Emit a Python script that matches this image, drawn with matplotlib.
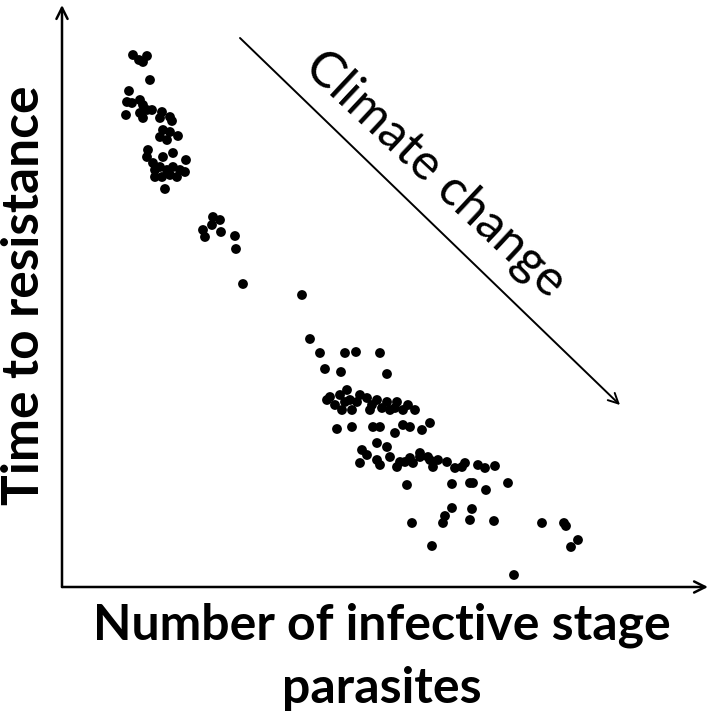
import matplotlib
matplotlib.use("Agg")
import matplotlib.pyplot as plt

# number of infective stage parasites (arbitrary units)
parasites = [71, 77, 85, 81, 88, 67, 65, 70, 78, 81, 85, 90, 64, 78, 81, 100, 98, 108, 110,
             101, 108, 116, 98, 105, 86, 85, 91, 101, 111, 124, 93, 98, 105, 111, 118, 123,
             93, 100, 108, 115, 103,
             151, 158, 150, 141, 143, 159, 173, 174, 181, 240,
             248, 258, 283, 294, 318, 263, 279, 325,
             265, 268, 278, 285, 288, 280, 295, 305, 310, 315, 320, 325, 328, 335, 341, 353, 290,
             273, 298, 283, 333, 346, 308,
             275, 290, 311, 318, 333, 341, 348, 360, 368,
             315, 325, 300, 298, 305, 315, 328, 338, 348, 358, 368, 318, 335,
             343, 351, 358, 366, 371, 376, 385, 393, 400, 403, 416, 423, 433,
             345, 390, 408, 411, 424, 446,
             390, 410, 383, 381, 408, 432, 350, 480, 502, 504, 516, 509, 370, 452]

# time to resistance (arbitrary units)
time_res = [532, 527, 531, 525, 507, 496, 485, 484, 487, 482, 477, 477, 472, 474, 469, 475, 469, 470, 466,
            457, 455, 451, 450, 447, 437, 430, 424, 430, 434, 427, 417, 420, 417, 420, 417, 415,
            410, 410, 412, 410, 398,
            370, 367, 362, 357, 350, 355, 351, 338, 303, 292,
            248, 234, 234, 235, 234, 218, 215, 213,
            187, 190, 192, 197, 187, 177, 185, 189, 182, 187, 179, 185, 177, 185, 177, 177, 177,
            182, 192, 185, 179, 182, 177,
            158, 160, 160, 160, 154, 162, 160, 157, 164,
            144, 140, 137, 124, 132, 127, 130, 125, 129, 130, 127, 122, 120,
            125, 124, 134, 130, 120, 127, 125, 119, 120, 124, 122, 119, 121,
            102, 103, 104, 104, 97, 104,
            79, 78, 71, 64, 67, 66, 64, 64, 64, 61, 47, 40, 41, 12]

plt.rcParams['font.family'] = ['Lato', 'DejaVu Sans']

fig = plt.figure(figsize=(7.14, 7.23), dpi=100)
W, H = 714, 723
ax = fig.add_axes([62 / W, 136 / H, 646 / W, 582 / H])
ax.set_xlim(0, 646)
ax.set_ylim(0, 582)
ax.axis('off')

ax.scatter(parasites, time_res, s=50, c='black', edgecolors='none', zorder=3)

# axes drawn as arrows
arrow = dict(arrowstyle='->', color='black', lw=1.8, mutation_scale=20, shrinkA=0, shrinkB=0)
ax.annotate('', xy=(0, 582), xytext=(0, 0), arrowprops=arrow, annotation_clip=False)
ax.annotate('', xy=(646, 0), xytext=(0, 0), arrowprops=arrow, annotation_clip=False)

# climate change arrow
carrow = dict(arrowstyle='->', color='black', lw=1.4, mutation_scale=18, shrinkA=0, shrinkB=0)
ax.annotate('', xy=(558, 182), xytext=(178, 549), arrowprops=carrow, annotation_clip=False)
ax.text(373, 413, 'Climate change', rotation=-43, rotation_mode='anchor',
        ha='center', va='center', fontsize=36)

fig.text(382 / W, 1 - 640 / H, 'Number of infective stage', ha='center', va='baseline',
         fontsize=36, fontweight='bold')
fig.text(382 / W, 1 - 703 / H, 'parasites', ha='center', va='baseline',
         fontsize=36, fontweight='bold')
fig.text(25 / W, 1 - 295 / H, 'Time to resistance', ha='center', va='center',
         rotation=90, fontsize=37, fontweight='bold')

fig.savefig('out.png', dpi=100)
